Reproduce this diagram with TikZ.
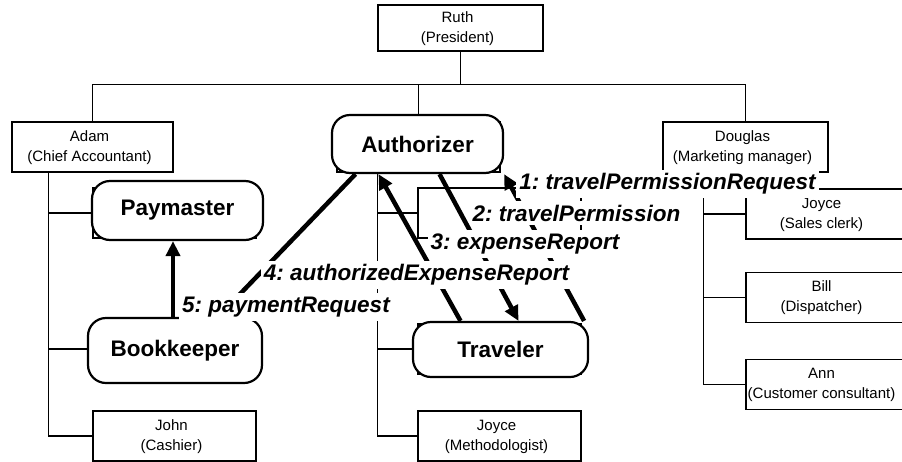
\documentclass[tikz,border=0pt]{standalone}
\usepackage{fontspec}
\setmainfont{Liberation Sans}
\usetikzlibrary{arrows.meta,calc}
\frenchspacing
% name and job title, two centred lines
\newcommand\staffentry[2]{\begin{tabular}{@{}c@{\hspace{6pt}}}#1\\#2\end{tabular}}
\begin{document}
\begin{tikzpicture}[x=1pt,y=-1pt,
  person/.style={draw,fill=white,line width=1.1pt,minimum width=163pt,minimum height=50pt,
    inner sep=0pt,font=\fontsize{15}{20}\selectfont},
  role/.style={draw,fill=white,line width=2.2pt,rounded corners=18pt,inner sep=0pt,
    font=\fontsize{22.5}{27}\selectfont\bfseries},
  tree/.style={line width=1.1pt},
  msg/.style={line width=4.5pt,-{Triangle[length=15pt,width=14pt]}},
  lbl/.style={fill=white,inner xsep=3pt,inner ysep=4pt,
    font=\fontsize{22.5}{27}\selectfont\bfseries\itshape}]

\useasboundingbox (0,0) rectangle (902,461);
\clip (0,0) rectangle (902,461);

% ---- organisation chart ----
\node[person,minimum width=165pt,minimum height=46pt] (ruth) at (460.5,28) {\staffentry{Ruth}{(President)}};
\node[person,minimum width=161pt] (adam) at (92.5,147) {\staffentry{Adam}{(Chief Accountant)}};
\node[person] (head) at (418.5,147) {};
\node[person,minimum width=165pt] (douglas) at (745.5,147) {\staffentry{Douglas}{(Marketing manager)}};

\node[person] (payslot)  at (174.5,213) {};
\node[person] (bookslot) at (174.5,349) {};
\node[person] (john)     at (174.5,436) {\staffentry{John}{(Cashier)}};

\node[person] (midslot)  at (499.5,213) {};
\node[person] (travslot) at (499.5,349) {};
\node[person] (joycem)   at (499.5,436) {\staffentry{Joyce}{(Methodologist)}};

\node[person,minimum width=157pt] (joyces) at (824.5,214)   {\staffentry{Joyce}{(Sales clerk)}};
\node[person,minimum width=157pt] (bill)   at (824.5,297.5) {\staffentry{Bill}{(Dispatcher)}};
\node[person,minimum width=157pt] (ann)    at (824.5,384.5) {\staffentry{Ann}{(Customer consultant)}};

% top level links
\draw[tree] (ruth.south) -- ++(0,33) coordinate (hub);
\draw[tree] (adam.north) -- (adam.north |- hub) -- (douglas.north |- hub) -- (douglas.north);
\draw[tree] (head.north |- hub) -- (head.north);

% department columns
\coordinate (ac) at ([xshift=37pt]adam.south west);
\draw[tree] (ac) -- (ac |- john.west) -- (john.west);
\draw[tree] (ac |- payslot.west) -- (payslot.west);
\draw[tree] (ac |- bookslot.west) -- (bookslot.west);

\coordinate (mc) at ([xshift=41pt]head.south west);
\draw[tree] (mc) -- (mc |- joycem.west) -- (joycem.west);
\draw[tree] (mc |- midslot.west) -- (midslot.west);
\draw[tree] (mc |- travslot.west) -- (travslot.west);

\coordinate (dc) at ([xshift=41pt]douglas.south west);
\draw[tree] (dc) -- (dc |- ann.west) -- (ann.west);
\draw[tree] (dc |- joyces.west) -- (joyces.west);
\draw[tree] (dc |- bill.west) -- (bill.west);

% ---- roles ----
\node[role,minimum width=171pt,minimum height=58pt] (auth) at (417.5,144)   {Authorizer\hspace{6pt}};
\node[role,minimum width=171pt,minimum height=59pt] (pay)  at (177.5,210.5) {Paymaster\hspace{6pt}};
\node[role,minimum width=174pt,minimum height=65pt] (book) at (175,350.5)   {Bookkeeper\hspace{12pt}};
\node[role,minimum width=175pt,minimum height=55pt] (trav) at (500.5,349.5) {Traveler\hspace{4pt}};

% ---- messages ----
\draw[msg] ([xshift=-5pt]trav.north east) -- (auth.south east);
\draw[msg] ([xshift=22pt]auth.south) -- ([xshift=18pt]trav.north);
\draw[msg] ([xshift=-40pt]trav.north) -- ([xshift=-39pt]auth.south);
\draw[msg] ([xshift=-62pt]auth.south) -- ([xshift=43pt]book.north);
\draw[msg] ([xshift=-2pt]book.north) -- ([xshift=-4.5pt]pay.south);

\node[lbl] (l1) at (667.5,184) {1: travelPermissionRequest};
\node[lbl] (l2) at (576.5,213) {2: travelPermission};
\node[lbl] (l3) at (525,244)   {3: expenseReport};
\node[lbl] (l4) at (416.5,275) {4: authorizedExpenseReport};
\node[lbl] (l5) at (286,307)   {5: paymentRequest};
\end{tikzpicture}
\end{document}
